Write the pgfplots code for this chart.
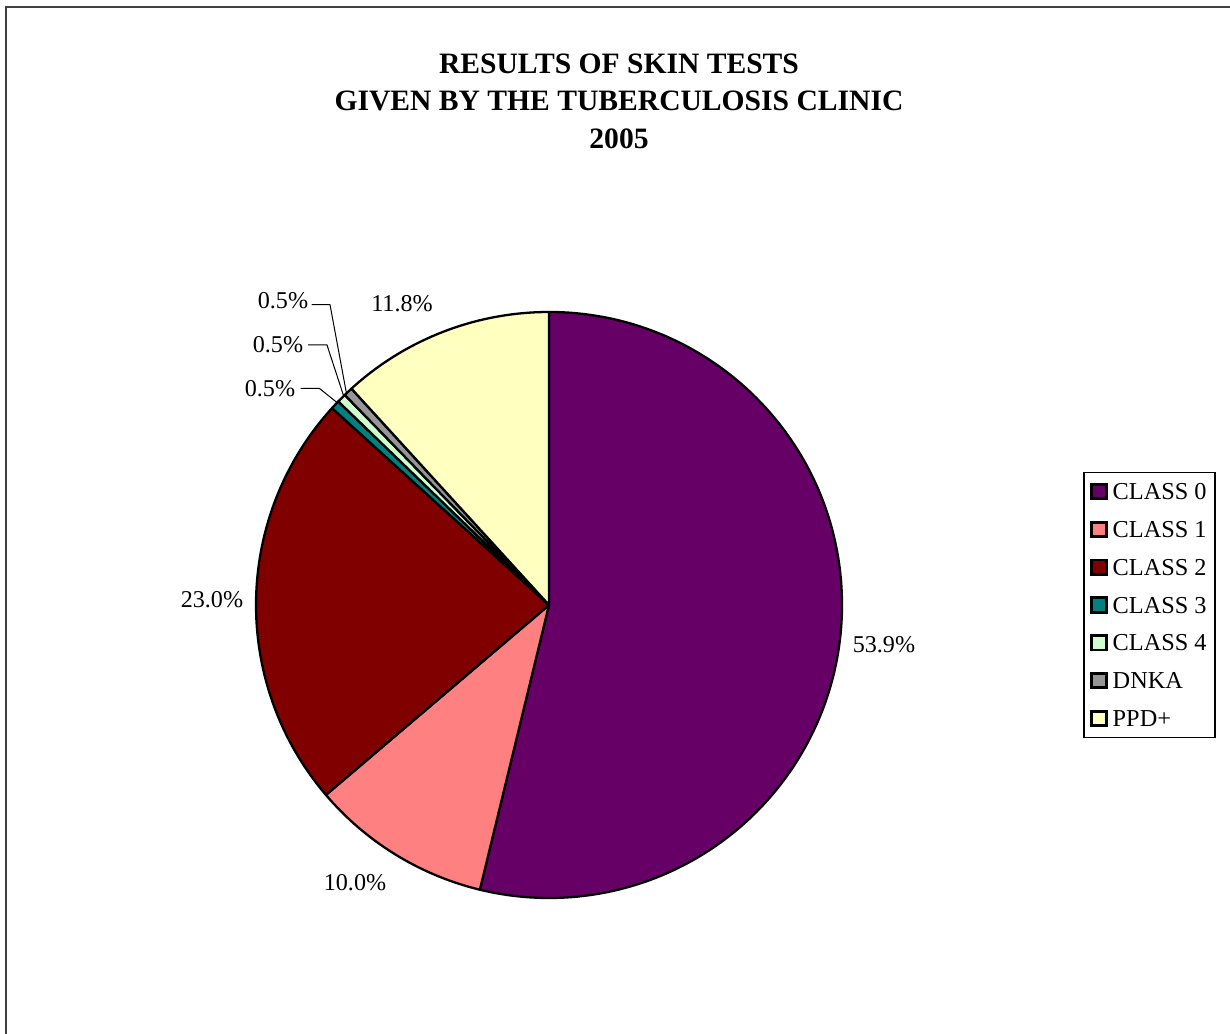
\documentclass[border=0pt]{standalone}
\usepackage{pgfplots}
\pgfplotsset{compat=1.18}
\usepackage{pgfplotstable}
\usepackage{fontspec}
\setmainfont{Liberation Serif}

\definecolor{c0}{HTML}{660066}
\definecolor{c1}{HTML}{FF8080}
\definecolor{c2}{HTML}{800000}
\definecolor{c3}{HTML}{008080}
\definecolor{c4}{HTML}{CCFFCC}
\definecolor{c5}{HTML}{969696}
\definecolor{c6}{HTML}{FFFFC0}
\definecolor{framegray}{HTML}{404040}

\pgfplotstableread[col sep=comma,row sep=\\]{
label,value\\
CLASS 0,53.9\\
CLASS 1,10.0\\
CLASS 2,23.0\\
CLASS 3,0.5\\
CLASS 4,0.5\\
DNKA,0.5\\
PPD+,11.8\\
}\piedata

\tikzset{lbl/.style={font=\fontsize{12.1}{14}\selectfont, inner sep=0pt}}

\begin{document}
\begin{tikzpicture}
\useasboundingbox (0,0) rectangle (615bp,517bp);
% outer chart frame (right and bottom edges fall outside the page)
\draw[framegray, line width=1.1bp] (3bp,-10bp) -- (3bp,513.6bp) -- (630bp,513.6bp);

% title
\node[anchor=base, font=\fontsize{14.85}{18}\selectfont\bfseries] at (309.5bp,480.2bp) {RESULTS OF SKIN TESTS};
\node[anchor=base, font=\fontsize{14.85}{18}\selectfont\bfseries] at (309.5bp,461.5bp) {GIVEN BY THE TUBERCULOSIS CLINIC};
\node[anchor=base, font=\fontsize{14.85}{18}\selectfont\bfseries] at (309.5bp,442.8bp) {2005};

% cumulative angles from the data
\pgfplotstablegetrowsof{\piedata}
\pgfmathtruncatemacro\lastrow{\pgfplotsretval-1}
\def\tot{0}
\pgfplotsforeachungrouped \i in {0,...,\lastrow}{%
  \pgfplotstablegetelem{\i}{value}\of\piedata
  \pgfmathsetmacro\tot{\tot+\pgfplotsretval}%
}
\def\cum{0}
\pgfplotsforeachungrouped \i in {0,...,\lastrow}{%
  \pgfplotstablegetelem{\i}{value}\of\piedata
  \pgfmathsetmacro\sa{90-3.6*(\cum/\tot)*100}%
  \pgfmathsetmacro\cum{\cum+\pgfplotsretval}%
  \pgfmathsetmacro\sb{90-3.6*(\cum/\tot)*100}%
  \expandafter\let\csname sa\i\endcsname\sa
  \expandafter\let\csname sb\i\endcsname\sb
}

\begin{axis}[
  at={(274.5bp,214.5bp)}, anchor=origin,
  x=146.5bp, y=146.5bp,
  xmin=-1, xmax=1, ymin=-1, ymax=1,
  hide axis, clip=false,
  legend cell align=left,
  legend image code/.code={\draw[#1] (0bp,-3.6bp) rectangle (7.2bp,3.6bp);},
  legend style={
    at={(1.4118,0.5)}, anchor=west,
    draw=black, line width=0.6bp,
    font=\fontsize{12.2}{14}\selectfont,
    inner xsep=3.2bp, inner ysep=4.4bp,
    row sep=8.7bp, column sep=1.6bp,
    nodes={inner sep=1bp, text height=8.2bp, text depth=0bp},
  },
]
\pgfplotsinvokeforeach{0,...,6}{%
  \addlegendimage{fill=c#1, draw=black, line width=1.4bp}
}
\legend{CLASS 0,CLASS 1,CLASS 2,CLASS 3,CLASS 4,DNKA,PPD+}

\pgfplotsinvokeforeach{0,...,6}{%
  \fill[fill=c#1, draw=black, line width=1.15bp, line join=round]
    (axis cs:0,0) -- ++(\csname sa#1\endcsname:146.5bp)
    arc[start angle=\csname sa#1\endcsname, end angle=\csname sb#1\endcsname, radius=146.5bp] -- cycle;
}

% data labels
\node[lbl] at (axis cs:1.1433,-0.1365) {53.9\%};
\node[lbl] at (axis cs:-0.6621,-0.9488) {10.0\%};
\node[lbl] at (axis cs:-1.1502,0.0171) {23.0\%};
\node[lbl] at (axis cs:-0.5017,1.0273) {11.8\%};
\node[lbl] at (axis cs:-0.9078,1.0375) {0.5\%};
\node[lbl] at (axis cs:-0.9249,0.8874) {0.5\%};
\node[lbl] at (axis cs:-0.9522,0.7372) {0.5\%};
% leader lines
\draw[black, line width=0.5bp] (axis cs:-0.8102,1.0249) -- (axis cs:-0.7474,1.0249) -- (axis cs:-0.6904,0.7177);
\draw[black, line width=0.5bp] (axis cs:-0.8225,0.8874) -- (axis cs:-0.7577,0.8874) -- (axis cs:-0.7020,0.7167);
\draw[black, line width=0.5bp] (axis cs:-0.8474,0.7395) -- (axis cs:-0.7839,0.7395) -- (axis cs:-0.7246,0.6918);
\end{axis}
\end{tikzpicture}
\end{document}
